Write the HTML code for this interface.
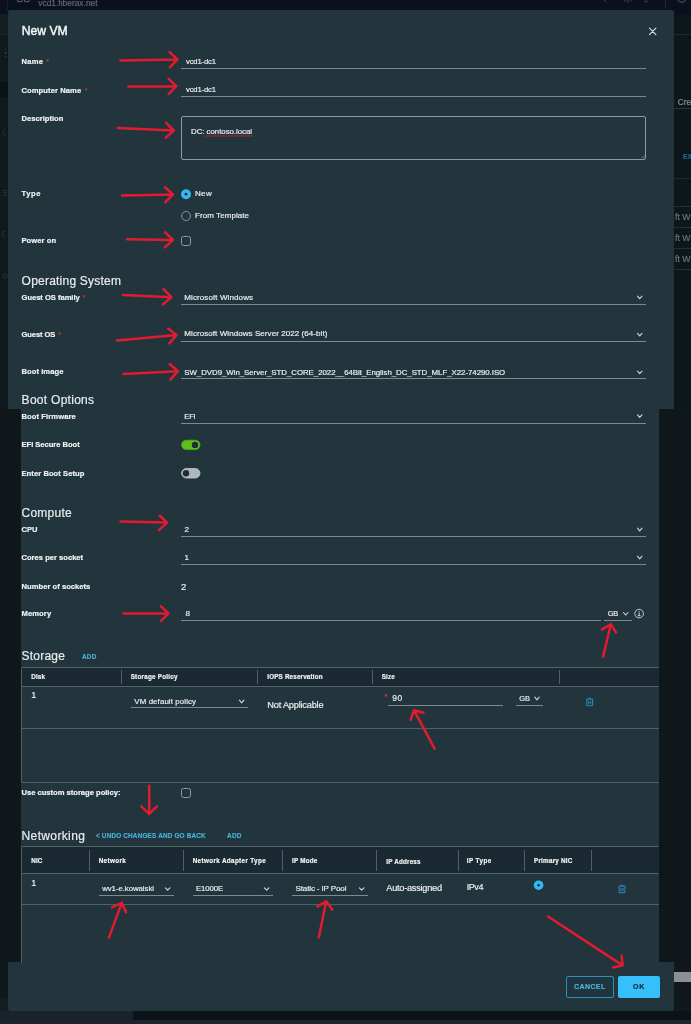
<!DOCTYPE html>
<html lang="en">
<head>
<meta charset="utf-8">
<title>New VM</title>
<style>
*{box-sizing:border-box;margin:0;padding:0}
html,body{width:691px;height:1024px;overflow:hidden;background:#0f171b}
body{position:relative;filter:blur(0.35px);font-family:"Liberation Sans",sans-serif;color:#e9edef}
.a{position:absolute}
.t{position:absolute;white-space:nowrap;line-height:1;-webkit-text-stroke-width:0.18px}
.ul{position:absolute;height:1px}
.vs{position:absolute;width:1px;background:#51616a}
svg{position:absolute;left:0;top:0;overflow:visible}
#txt{position:absolute;left:0;top:0;width:691px;height:1024px;will-change:transform}
</style>
</head>
<body>
<!-- page behind the dialog -->

<div class="a" style="left:0;top:0;width:691px;height:14px;background:#0a111c"></div>
<div class="a" style="left:7px;top:0;width:1px;height:10px;background:#18222b"></div>
<div class="a" style="left:0;top:14px;width:8px;height:396px;background:#10191e"></div>
<div class="a" style="left:0;top:14px;width:8px;height:20px;background:#121c21"></div>
<div class="a" style="left:0;top:34px;width:8px;height:1px;background:#1b262c"></div>
<div class="a" style="left:0;top:82px;width:8px;height:15px;background:#0b1217"></div>
<div class="a" style="left:4.5px;top:49px;width:1px;height:8px;background:repeating-linear-gradient(#39444b 0 1.4px,transparent 1.4px 3.3px)"></div>
<div class="a" style="left:673px;top:14px;width:18px;height:396px;background:#0d161b"></div>
<div class="a" style="left:674px;top:34px;width:17px;height:1px;background:#1f2a30"></div>
<div class="a" style="left:674px;top:108px;width:17px;height:1px;background:#2a363d"></div>
<div class="a" style="left:674px;top:177.5px;width:17px;height:1px;background:#1f2a30"></div>
<div class="a" style="left:674px;top:205.5px;width:17px;height:1px;background:#232e35"></div>
<div class="a" style="left:674px;top:227px;width:17px;height:1px;background:#232e35"></div>
<div class="a" style="left:674px;top:248px;width:17px;height:1px;background:#232e35"></div>
<div class="a" style="left:674px;top:269px;width:17px;height:1px;background:#232e35"></div>
<div class="a" style="left:0;top:409px;width:691px;height:553px;background:#0f171b"></div>
<div class="a" style="left:0;top:962px;width:691px;height:62px;background:#10181d"></div>
<div class="a" style="left:0;top:999px;width:8px;height:12px;background:#131d22"></div>
<div class="a" style="left:674px;top:972px;width:17px;height:10px;background:#8b9094"></div>
<div class="a" style="left:0;top:1011px;width:133px;height:9px;background:#19242a"></div>
<div class="a" style="left:133px;top:1011px;width:558px;height:9px;background:#0c1318"></div>
<div class="a" style="left:0;top:1020px;width:691px;height:4px;background:#1c252a"></div>

<!-- dialog panels -->

<div class="a" style="left:7.7px;top:10.2px;width:666.2px;height:399px;background:#22343c;border-radius:2px 2px 0 0"></div>
<div class="a" style="left:21px;top:409px;width:638.2px;height:554px;background:#22343c"></div>
<div class="a" style="left:8.2px;top:962.2px;width:665.5px;height:48.7px;background:#22343c;border-radius:0 0 2.5px 2.5px"></div>

<!-- tables -->

<div class="a" style="left:21px;top:667px;width:638.2px;height:116px;border:1px solid #51616a;border-right:0;border-radius:2px 0 0 2px"></div>
<div class="a" style="left:22px;top:668px;width:637.2px;height:18px;background:#1b2a32"></div>
<div class="a" style="left:21px;top:686px;width:638.2px;height:1px;background:#51616a"></div>
<div class="a" style="left:21px;top:728px;width:638.2px;height:1px;background:#51616a"></div>
<div class="a" style="left:21px;top:846px;width:638.2px;height:117px;border:1px solid #51616a;border-right:0;border-bottom:0;border-radius:2px 0 0 0"></div>
<div class="a" style="left:22px;top:847px;width:637.2px;height:26px;background:#1b2a32"></div>
<div class="a" style="left:21px;top:872.5px;width:638.2px;height:1px;background:#51616a"></div>
<div class="a" style="left:21px;top:904px;width:638.2px;height:1px;background:#51616a"></div>
<div class="vs" style="left:121.2px;top:670px;height:14px"></div>
<div class="vs" style="left:256.8px;top:670px;height:14px"></div>
<div class="vs" style="left:371.8px;top:670px;height:14px"></div>
<div class="vs" style="left:558.8px;top:670px;height:14px"></div>
<div class="vs" style="left:88.5px;top:850px;height:21px"></div>
<div class="vs" style="left:182.5px;top:850px;height:21px"></div>
<div class="vs" style="left:281.8px;top:850px;height:21px"></div>
<div class="vs" style="left:376.2px;top:850px;height:21px"></div>
<div class="vs" style="left:457.5px;top:850px;height:21px"></div>
<div class="vs" style="left:523.8px;top:850px;height:21px"></div>
<div class="vs" style="left:591.1px;top:850px;height:21px"></div>

<!-- underlines -->
<div class="ul" style="left:181.2px;top:67.9px;width:464.8px;background:#7c8a91"></div>
<div class="ul" style="left:181.2px;top:96.2px;width:464.8px;background:#7c8a91"></div>
<div class="ul" style="left:181.2px;top:303.7px;width:464.8px;background:#7c8a91"></div>
<div class="ul" style="left:181.2px;top:340.6px;width:464.8px;background:#7c8a91"></div>
<div class="ul" style="left:181.2px;top:378.0px;width:464.8px;background:#7c8a91"></div>
<div class="ul" style="left:181.2px;top:422.6px;width:464.8px;background:#7c8a91"></div>
<div class="ul" style="left:181.2px;top:535.5px;width:464.8px;background:#7c8a91"></div>
<div class="ul" style="left:181.2px;top:563.8px;width:464.8px;background:#7c8a91"></div>
<div class="ul" style="left:181.2px;top:620.2px;width:419.8px;background:#7c8a91"></div>
<div class="ul" style="left:604.1px;top:619.9px;width:27.8px;background:#7c8a91"></div>
<div class="ul" style="left:130.7px;top:707.1px;width:117.3px;background:#7c8a91"></div>
<div class="ul" style="left:387.5px;top:704.5px;width:115.2px;background:#7c8a91"></div>
<div class="ul" style="left:515.7px;top:704.5px;width:27.6px;background:#7c8a91"></div>
<div class="ul" style="left:98.7px;top:894.5px;width:75.0px;background:#7c8a91"></div>
<div class="ul" style="left:192.7px;top:894.5px;width:80.3px;background:#7c8a91"></div>
<div class="ul" style="left:292px;top:894.5px;width:75.7px;background:#7c8a91"></div>
<!-- form controls -->

<div class="a" style="left:181.2px;top:116.2px;width:465.3px;height:43.8px;border:1px solid #8f9ba1;border-radius:2px"></div>
<div class="a" style="left:181px;top:236.2px;width:10px;height:9.8px;border-radius:2.5px;border:1px solid #8d999f"></div>
<div class="a" style="left:181px;top:788px;width:10px;height:9.8px;border-radius:2.5px;border:1px solid #8d999f"></div>
<div class="a" style="left:566.2px;top:976.4px;width:47.4px;height:21.2px;border:1px solid #2f8dbd;border-radius:2px"></div>
<div class="a" style="left:618.1px;top:976.4px;width:41.5px;height:21.2px;background:#36bffa;border-radius:2px"></div>

<!-- text -->
<div id="txt">
<span class="t" style="left:21.7px;top:24.6px;font-size:12.2px;color:#f3f5f6;letter-spacing:-0.01px;-webkit-text-stroke:0.45px #f3f5f6;">New VM</span>
<span class="t" style="left:21.6px;top:275.1px;font-size:12px;color:#e8ecee;letter-spacing:0.22px;-webkit-text-stroke:0.2px #e8ecee;">Operating System</span>
<span class="t" style="left:21.6px;top:393.7px;font-size:12px;color:#e8ecee;letter-spacing:0.28px;-webkit-text-stroke:0.2px #e8ecee;">Boot Options</span>
<span class="t" style="left:21.6px;top:506.9px;font-size:12px;color:#e8ecee;letter-spacing:0.22px;-webkit-text-stroke:0.2px #e8ecee;">Compute</span>
<span class="t" style="left:21.6px;top:649.8px;font-size:12px;color:#e8ecee;letter-spacing:0.21px;-webkit-text-stroke:0.2px #e8ecee;">Storage</span>
<span class="t" style="left:21.6px;top:829.8px;font-size:12px;color:#e8ecee;letter-spacing:0.36px;-webkit-text-stroke:0.2px #e8ecee;">Networking</span>
<span class="t" style="left:21.5px;top:58.2px;font-size:7.6px;color:#f1f4f6;font-weight:bold;letter-spacing:0.30px;">Name</span>
<span class="t" style="left:21.5px;top:86.7px;font-size:7.6px;color:#f1f4f6;font-weight:bold;letter-spacing:0.08px;">Computer Name</span>
<span class="t" style="left:21.5px;top:115.0px;font-size:7.6px;color:#f1f4f6;font-weight:bold;letter-spacing:0.01px;">Description</span>
<span class="t" style="left:21.5px;top:190.2px;font-size:7.6px;color:#f1f4f6;font-weight:bold;letter-spacing:0.58px;">Type</span>
<span class="t" style="left:21.5px;top:237.4px;font-size:7.6px;color:#f1f4f6;font-weight:bold;letter-spacing:0.06px;">Power on</span>
<span class="t" style="left:21.5px;top:294.0px;font-size:7.6px;color:#f1f4f6;font-weight:bold;letter-spacing:-0.03px;">Guest OS family</span>
<span class="t" style="left:21.5px;top:331.0px;font-size:7.6px;color:#f1f4f6;font-weight:bold;letter-spacing:-0.10px;">Guest OS</span>
<span class="t" style="left:21.5px;top:368.0px;font-size:7.6px;color:#f1f4f6;font-weight:bold;letter-spacing:0.06px;">Boot image</span>
<span class="t" style="left:21.5px;top:413.0px;font-size:7.6px;color:#f1f4f6;font-weight:bold;letter-spacing:0.09px;">Boot Firmware</span>
<span class="t" style="left:21.5px;top:441.0px;font-size:7.6px;color:#f1f4f6;font-weight:bold;letter-spacing:-0.03px;">EFI Secure Boot</span>
<span class="t" style="left:21.5px;top:469.7px;font-size:7.6px;color:#f1f4f6;font-weight:bold;letter-spacing:0.06px;">Enter Boot Setup</span>
<span class="t" style="left:21.5px;top:525.7px;font-size:7.6px;color:#f1f4f6;font-weight:bold;letter-spacing:-0.07px;">CPU</span>
<span class="t" style="left:21.5px;top:553.7px;font-size:7.6px;color:#f1f4f6;font-weight:bold;letter-spacing:-0.00px;">Cores per socket</span>
<span class="t" style="left:21.5px;top:582.7px;font-size:7.6px;color:#f1f4f6;font-weight:bold;letter-spacing:0.03px;">Number of sockets</span>
<span class="t" style="left:21.5px;top:609.7px;font-size:7.6px;color:#f1f4f6;font-weight:bold;letter-spacing:0.10px;">Memory</span>
<span class="t" style="left:21.5px;top:789.4px;font-size:7.6px;color:#f1f4f6;font-weight:bold;letter-spacing:-0.01px;">Use custom storage policy:</span>
<span class="t" style="left:46.3px;top:58.2px;font-size:7px;color:#c7362b;">*</span>
<span class="t" style="left:84.7px;top:86.6px;font-size:7px;color:#c7362b;">*</span>
<span class="t" style="left:83.0px;top:293.9px;font-size:7px;color:#c7362b;">*</span>
<span class="t" style="left:58.3px;top:330.9px;font-size:7px;color:#c7362b;">*</span>
<span class="t" style="left:384.6px;top:692.7px;font-size:7px;color:#e0452f;">*</span>
<span class="t" style="left:186.0px;top:58.0px;font-size:7.7px;color:#ebeff1;letter-spacing:-0.17px;">vcd1-dc1</span>
<span class="t" style="left:186.0px;top:86.4px;font-size:7.7px;color:#ebeff1;letter-spacing:-0.17px;">vcd1-dc1</span>
<span class="t" style="left:191.0px;top:128.3px;font-size:7.9px;color:#ebeff1;letter-spacing:-0.05px;">DC: contoso.local</span>
<span class="t" style="left:195.0px;top:190.1px;font-size:8px;color:#ebeff1;letter-spacing:0.34px;">New</span>
<span class="t" style="left:195.0px;top:211.8px;font-size:8px;color:#ebeff1;letter-spacing:0.07px;">From Template</span>
<span class="t" style="left:184.3px;top:294.0px;font-size:8px;color:#ebeff1;letter-spacing:0.10px;">Microsoft Windows</span>
<span class="t" style="left:184.3px;top:330.4px;font-size:8px;color:#ebeff1;letter-spacing:0.07px;">Microsoft Windows Server 2022 (64-bit)</span>
<span class="t" style="left:184.3px;top:368.5px;font-size:7.85px;color:#ebeff1;letter-spacing:-0.03px;">SW_DVD9_Win_Server_STD_CORE_2022__64Bit_English_DC_STD_MLF_X22-74290.ISO</span>
<span class="t" style="left:184.3px;top:412.6px;font-size:7.6px;color:#ebeff1;letter-spacing:-0.21px;">EFI</span>
<span class="t" style="left:184.6px;top:525.8px;font-size:8px;color:#ebeff1;">2</span>
<span class="t" style="left:184.6px;top:554.2px;font-size:8px;color:#ebeff1;">1</span>
<span class="t" style="left:181.1px;top:581.6px;font-size:9.6px;color:#ebeff1;">2</span>
<span class="t" style="left:185.6px;top:609.9px;font-size:8px;color:#ebeff1;">8</span>
<span class="t" style="left:607.7px;top:609.8px;font-size:7.4px;color:#ebeff1;letter-spacing:-0.09px;">GB</span>
<span class="t" style="left:82.0px;top:653.7px;font-size:6.4px;color:#49afd9;font-weight:bold;letter-spacing:0.22px;">ADD</span>
<span class="t" style="left:96.0px;top:833.3px;font-size:6.4px;color:#49afd9;font-weight:bold;letter-spacing:0.17px;">&lt; UNDO CHANGES AND GO BACK</span>
<span class="t" style="left:227.0px;top:833.3px;font-size:6.4px;color:#49afd9;font-weight:bold;letter-spacing:0.32px;">ADD</span>
<span class="t" style="left:31.3px;top:673.9px;font-size:6.3px;color:#f1f4f6;font-weight:bold;letter-spacing:0.13px;">Disk</span>
<span class="t" style="left:130.7px;top:673.9px;font-size:6.3px;color:#f1f4f6;font-weight:bold;letter-spacing:0.23px;">Storage Policy</span>
<span class="t" style="left:267.3px;top:673.9px;font-size:6.3px;color:#f1f4f6;font-weight:bold;letter-spacing:0.16px;">IOPS Reservation</span>
<span class="t" style="left:381.7px;top:673.9px;font-size:6.3px;color:#f1f4f6;font-weight:bold;letter-spacing:0.13px;">Size</span>
<span class="t" style="left:31.2px;top:691.2px;font-size:9px;color:#ebeff1;">1</span>
<span class="t" style="left:134.3px;top:698.0px;font-size:7.9px;color:#ebeff1;letter-spacing:0.10px;">VM default policy</span>
<span class="t" style="left:267.3px;top:701.2px;font-size:9.2px;color:#ebeff1;letter-spacing:-0.19px;">Not Applicable</span>
<span class="t" style="left:392.3px;top:693.9px;font-size:8.4px;color:#ebeff1;letter-spacing:0.67px;">90</span>
<span class="t" style="left:519.3px;top:694.5px;font-size:7.4px;color:#ebeff1;letter-spacing:-0.09px;">GB</span>
<span class="t" style="left:31.3px;top:857.7px;font-size:6.3px;color:#f1f4f6;font-weight:bold;letter-spacing:0.07px;">NIC</span>
<span class="t" style="left:98.7px;top:857.7px;font-size:6.3px;color:#f1f4f6;font-weight:bold;letter-spacing:0.36px;">Network</span>
<span class="t" style="left:192.7px;top:857.7px;font-size:6.3px;color:#f1f4f6;font-weight:bold;letter-spacing:0.36px;">Network Adapter Type</span>
<span class="t" style="left:292.0px;top:857.5px;font-size:6.3px;color:#f1f4f6;font-weight:bold;letter-spacing:0.21px;">IP Mode</span>
<span class="t" style="left:386.3px;top:858.7px;font-size:6.3px;color:#f1f4f6;font-weight:bold;letter-spacing:0.19px;">IP Address</span>
<span class="t" style="left:466.7px;top:857.5px;font-size:6.3px;color:#f1f4f6;font-weight:bold;letter-spacing:0.45px;">IP Type</span>
<span class="t" style="left:534.0px;top:857.5px;font-size:6.3px;color:#f1f4f6;font-weight:bold;letter-spacing:0.23px;">Primary NIC</span>
<span class="t" style="left:31.2px;top:879.0px;font-size:9px;color:#ebeff1;">1</span>
<span class="t" style="left:102.2px;top:884.5px;font-size:7.8px;color:#ebeff1;letter-spacing:-0.05px;">wv1-e.kowalski</span>
<span class="t" style="left:196.0px;top:884.5px;font-size:7.8px;color:#ebeff1;letter-spacing:-0.09px;">E1000E</span>
<span class="t" style="left:295.5px;top:884.5px;font-size:8.1px;color:#ebeff1;letter-spacing:-0.16px;">Static - IP Pool</span>
<span class="t" style="left:386.3px;top:883.6px;font-size:9.2px;color:#ebeff1;letter-spacing:-0.25px;">Auto-assigned</span>
<span class="t" style="left:466.7px;top:882.6px;font-size:9px;color:#ebeff1;letter-spacing:-0.41px;">IPv4</span>
<span class="t" style="left:574.0px;top:983.0px;font-size:7px;color:#49b4e0;font-weight:bold;letter-spacing:0.41px;">CANCEL</span>
<span class="t" style="left:633.1px;top:983.0px;font-size:7px;color:#0d2b3a;font-weight:bold;letter-spacing:0.70px;">OK</span>
<span class="t" style="left:38.3px;top:-1.2px;font-size:8.4px;color:#636b72;letter-spacing:0.01px;">vcd1.fiberax.net</span>
<span class="t" style="left:677.7px;top:97.6px;font-size:8.4px;color:#858f95;">Cre</span>
<span class="t" style="left:683.0px;top:154.4px;font-size:6.6px;color:#1f6b94;font-weight:bold;">EX</span>
<span class="t" style="left:675.0px;top:212.6px;font-size:8.8px;color:#6c767c;">ft W</span>
<span class="t" style="left:675.0px;top:233.6px;font-size:8.8px;color:#6c767c;">ft W</span>
<span class="t" style="left:675.0px;top:254.6px;font-size:8.8px;color:#6c767c;">ft W</span>
</div>
<!-- icons -->
<svg width="691" height="1024" viewBox="0 0 691 1024"><path d="M637.5 296.1L639.7 298.6L642.0 296.1" fill="none" stroke="#d3dadd" stroke-width="1.1" stroke-linecap="round" stroke-linejoin="round"/><path d="M637.5 333.4L639.7 335.9L642.0 333.4" fill="none" stroke="#d3dadd" stroke-width="1.1" stroke-linecap="round" stroke-linejoin="round"/><path d="M637.5 371.1L639.7 373.6L642.0 371.1" fill="none" stroke="#d3dadd" stroke-width="1.1" stroke-linecap="round" stroke-linejoin="round"/><path d="M637.5 414.9L639.7 417.4L642.0 414.9" fill="none" stroke="#d3dadd" stroke-width="1.1" stroke-linecap="round" stroke-linejoin="round"/><path d="M637.5 528.2L639.7 530.8L642.0 528.2" fill="none" stroke="#d3dadd" stroke-width="1.1" stroke-linecap="round" stroke-linejoin="round"/><path d="M637.5 556.2L639.7 558.8L642.0 556.2" fill="none" stroke="#d3dadd" stroke-width="1.1" stroke-linecap="round" stroke-linejoin="round"/><path d="M623.5 612.5L625.7 615.0L628.0 612.5" fill="none" stroke="#d3dadd" stroke-width="1.1" stroke-linecap="round" stroke-linejoin="round"/><path d="M239.4 700.2L241.7 702.8L243.9 700.2" fill="none" stroke="#d3dadd" stroke-width="1.1" stroke-linecap="round" stroke-linejoin="round"/><path d="M534.8 697.2L537.0 699.8L539.2 697.2" fill="none" stroke="#d3dadd" stroke-width="1.1" stroke-linecap="round" stroke-linejoin="round"/><path d="M165.4 887.8L167.7 890.2L169.9 887.8" fill="none" stroke="#d3dadd" stroke-width="1.1" stroke-linecap="round" stroke-linejoin="round"/><path d="M264.4 887.8L266.7 890.2L268.9 887.8" fill="none" stroke="#d3dadd" stroke-width="1.1" stroke-linecap="round" stroke-linejoin="round"/><path d="M359.4 887.8L361.7 890.2L363.9 887.8" fill="none" stroke="#d3dadd" stroke-width="1.1" stroke-linecap="round" stroke-linejoin="round"/><g fill="none" stroke="#2c8cbf" stroke-width="1" stroke-linejoin="round"><path d="M586.0 699.2h7.4M588.2 699.2l1.5 -1.5l1.5 1.5M586.8 699.6v6.1h5.8v-6.1M588.7 701.0v3.2M590.7 701.0v3.2"/></g><g fill="none" stroke="#2c8cbf" stroke-width="1" stroke-linejoin="round"><path d="M618.3 886.2h7.4M620.5 886.2l1.5 -1.5l1.5 1.5M619.1 886.6v6.1h5.8v-6.1M621.0 888.0v3.2M623.0 888.0v3.2"/></g><circle cx="186" cy="194.2" r="5" fill="#32b9f5"/><circle cx="186" cy="194.2" r="1.35" fill="#1b2a32"/><circle cx="186" cy="216" r="4.5" fill="none" stroke="#8d999f" stroke-width="1"/><circle cx="538.6" cy="885.2" r="4.8" fill="#32b9f5"/><circle cx="538.6" cy="885.2" r="1.3" fill="#1b2a32"/><g fill="none" stroke="#28333a" stroke-width="1"><path d="M5.5 130a2.6 2.6 0 1 0 0 5.2M3.4 190.5h3.6M3.4 193h3.6M3.4 195.5h3.6"/><path d="M6 231.5a2.8 2.8 0 1 0 0 5.4"/><circle cx="5" cy="276" r="2.2"/></g><rect x="181.6" y="440.2" width="18.4" height="9.4" rx="4.7" fill="#60c01a" stroke="#55ab16" stroke-width="0.8"/><circle cx="195" cy="444.9" r="3.2" fill="#1f2e36"/><rect x="181.6" y="468.6" width="18.4" height="9.4" rx="4.7" fill="#adb7bc" stroke="#c8cfd3" stroke-width="0.8"/><circle cx="186" cy="473.3" r="3.2" fill="#1f2e36"/><path d="M649.5 28.2l6.4 6.4M655.9 28.2l-6.4 6.4" stroke="#d9dfe2" stroke-width="1.15" fill="none" stroke-linecap="round"/><circle cx="639.1" cy="613.6" r="4.3" fill="none" stroke="#d5dcdf" stroke-width="0.9"/><path d="M639.1 611.3v.1M639.1 612.9v2.5M638.1 615.7h2" stroke="#d5dcdf" stroke-width="1" fill="none" stroke-linecap="round"/><path d="M644.6 155.2l-3 3M644.8 157.2l-1.2 1.2" stroke="#8f9ba1" stroke-width="0.7" fill="none"/><path d="M205.3 136.9l1.4 -1.9l1.4 1.9l1.4 -1.9l1.4 1.9l1.4 -1.9l1.4 1.9l1.4 -1.9l1.4 1.9l1.4 -1.9l1.4 1.9l1.4 -1.9l1.4 1.9l1.4 -1.9l1.4 1.9l1.4 -1.9l1.4 1.9l1.4 -1.9l1.4 1.9l1.4 -1.9l1.4 1.9l1.4 -1.9l1.4 1.9l1.4 -1.9l1.4 1.9l1.4 -1.9l1.4 1.9l1.4 -1.9l1.4 1.9l1.4 -1.9l1.4 1.9l1.4 -1.9l1.4 1.9l1.4 -1.9l1.4 1.9" stroke="#c9222d" stroke-width="0.75" fill="none" stroke-linejoin="round"/><path d="M17.5 0v1.6h4.5v-1.6M24.5 0v1.6h4.5v-1.6" stroke="#59626a" stroke-width="1" fill="none"/><path d="M604 0l2.6 2.4M625 0v1.6M628 0v2.6M631 0v1.2M644.6 0.6l1.6 1.4l1.6-1.4" stroke="#48515a" stroke-width="1" fill="none"/><path d="M665.5 0v7.5" stroke="#222c36" stroke-width="1" fill="none"/><circle cx="681.6" cy="-2.4" r="4.6" fill="none" stroke="#59626a" stroke-width="1"/></svg>
<!-- annotation arrows -->
<svg width="691" height="1024" viewBox="0 0 691 1024"><path d="M120.4 60.6L177.4 59.5M169.6 52.2L177.4 59.5L169.9 67.3" fill="none" stroke="#e21b30" stroke-width="2.5" stroke-linecap="round" stroke-linejoin="round"/><path d="M128.2 86.5L176.3 86.2M168.7 78.9L176.3 86.2L168.7 94.0" fill="none" stroke="#e21b30" stroke-width="2.5" stroke-linecap="round" stroke-linejoin="round"/><path d="M117.9 128.0L173.9 130.5M166.1 122.9L173.9 130.5L165.7 137.6" fill="none" stroke="#e21b30" stroke-width="2.5" stroke-linecap="round" stroke-linejoin="round"/><path d="M122.0 195.4L173.0 194.5M164.9 187.3L173.0 194.5L165.2 202.3" fill="none" stroke="#e21b30" stroke-width="2.5" stroke-linecap="round" stroke-linejoin="round"/><path d="M127.1 239.3L173.0 239.9M165.2 232.3L173.0 239.9L164.9 247.4" fill="none" stroke="#e21b30" stroke-width="2.5" stroke-linecap="round" stroke-linejoin="round"/><path d="M123.0 295.0L171.3 297.2M163.4 289.2L171.3 297.2L162.9 304.4" fill="none" stroke="#e21b30" stroke-width="2.5" stroke-linecap="round" stroke-linejoin="round"/><path d="M116.9 340.4L176.5 335.1M168.1 328.5L176.5 335.1L169.3 343.4" fill="none" stroke="#e21b30" stroke-width="2.5" stroke-linecap="round" stroke-linejoin="round"/><path d="M123.4 374.0L178.0 371.2M169.7 364.0L178.0 371.2L170.3 379.6" fill="none" stroke="#e21b30" stroke-width="2.5" stroke-linecap="round" stroke-linejoin="round"/><path d="M120.6 521.5L167.1 522.6M159.7 515.5L167.1 522.6L158.9 530.1" fill="none" stroke="#e21b30" stroke-width="2.5" stroke-linecap="round" stroke-linejoin="round"/><path d="M123.3 613.5L168.5 613.3M161.0 606.3L168.5 613.3L161.0 620.8" fill="none" stroke="#e21b30" stroke-width="2.5" stroke-linecap="round" stroke-linejoin="round"/><path d="M149.2 785.8L149.2 813.9M156.9 806.4L149.2 813.9L141.3 806.4" fill="none" stroke="#e21b30" stroke-width="2.5" stroke-linecap="round" stroke-linejoin="round"/><path d="M603.1 656.7L610.8 624.2M601.9 629.6L610.8 624.2L616.0 632.4" fill="none" stroke="#e21b30" stroke-width="2.5" stroke-linecap="round" stroke-linejoin="round"/><path d="M434.6 748.7L414.0 710.3M423.5 712.8L414.0 710.3L410.6 719.8" fill="none" stroke="#e21b30" stroke-width="2.5" stroke-linecap="round" stroke-linejoin="round"/><path d="M109.0 937.6L121.7 902.9M112.1 907.4L121.7 902.9L126.1 912.4" fill="none" stroke="#e21b30" stroke-width="2.5" stroke-linecap="round" stroke-linejoin="round"/><path d="M318.8 937.6L326.2 901.2M317.5 906.6L326.2 901.2L332.3 909.8" fill="none" stroke="#e21b30" stroke-width="2.5" stroke-linecap="round" stroke-linejoin="round"/><path d="M548.0 916.5L622.6 965.4M621.6 955.6L622.6 965.4L613.1 967.5" fill="none" stroke="#e21b30" stroke-width="2.5" stroke-linecap="round" stroke-linejoin="round"/></svg>
</body>
</html>
